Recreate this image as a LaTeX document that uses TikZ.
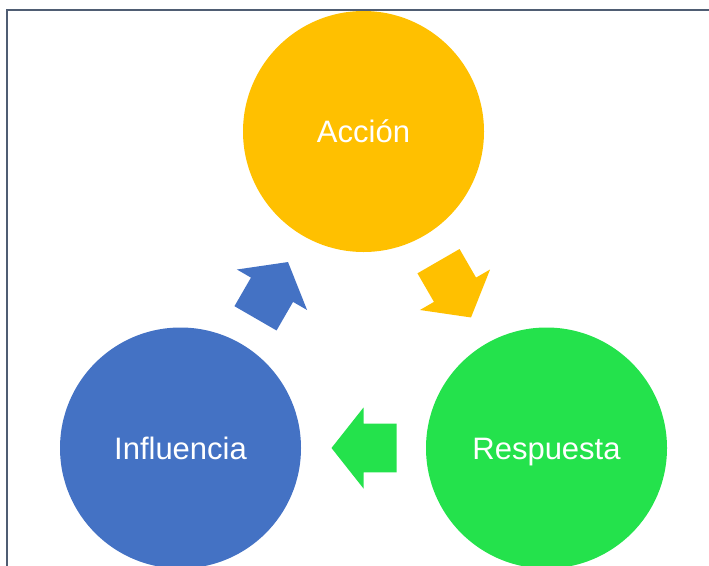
\documentclass[tikz,border=0pt]{standalone}
\usepackage{fontspec}
\setmainfont{Liberation Sans}
\usetikzlibrary{calc}
\definecolor{amarillo}{HTML}{FFC000}
\definecolor{verde}{HTML}{24E24C}
\definecolor{azul}{HTML}{4472C4}
\definecolor{marco}{HTML}{4F5D73}
\begin{document}
\begin{tikzpicture}[x=1pt,y=-1pt]
\tikzstyle{every node}+=[inner sep=0pt]
\tikzstyle{bola}=[circle, minimum size=241pt, text=white, text height=22pt, text depth=0pt, font=\fontsize{31}{36}\selectfont]
\useasboundingbox (0,0) rectangle (709,565);
\draw [marco, line width=2pt] (7,10) rectangle (715,575);
\node [bola, fill=amarillo] (accion) at (363.5,131.5) {Acción};
\node [bola, fill=azul] (influencia) at (180.5,448) {Influencia};
\node [bola, fill=verde] (respuesta) at (546.5,448) {Respuesta};
\foreach \a/\b/\ang/\col in {accion/respuesta/-60/amarillo, respuesta/influencia/180/verde, influencia/accion/60/azul}
  \fill [\col, shift={($(\a)!0.5!(\b)$)}, rotate=\ang] (-33,-24.3) -- (0,-24.3) -- (0,-40.5) -- (32,0) -- (0,40.5) -- (0,24.3) -- (-33,24.3) -- cycle;
\end{tikzpicture}
\end{document}
